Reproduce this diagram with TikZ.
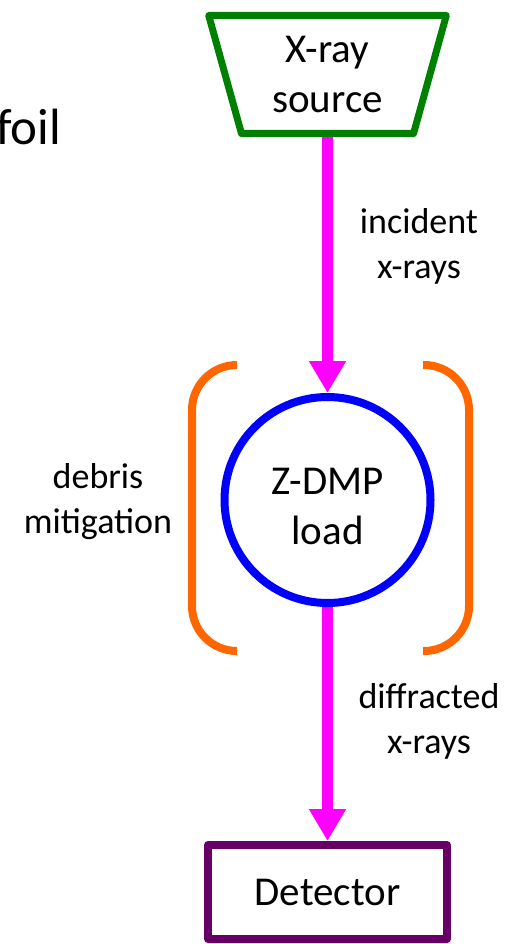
\documentclass[tikz,border=0pt]{standalone}
\usepackage{fontspec}
\setmainfont{Carlito}
\usepackage{tikz}
\usetikzlibrary{shapes.geometric, arrows.meta}
\definecolor{srcgreen}{RGB}{0,128,0}
\definecolor{raymagenta}{RGB}{255,0,255}
\definecolor{loadblue}{RGB}{0,0,255}
\definecolor{shieldorange}{RGB}{255,102,0}
\definecolor{detpurple}{RGB}{102,0,102}
\newcommand{\boxfont}{\fontsize{41}{50}\selectfont}
\newcommand{\notefont}{\fontsize{36}{45}\selectfont}
\tikzstyle{sourcebox} = [trapezium, trapezium left angle=75, trapezium right angle=75, shape border rotate=180, trapezium stretches=true, minimum width=238pt, minimum height=118pt, align=center, draw=srcgreen, line width=7pt, line join=round, font=\boxfont]
\tikzstyle{target} = [circle, minimum size=206pt, inner sep=0pt, align=center, draw=loadblue, line width=8pt, font=\boxfont]
\tikzstyle{detectorbox} = [rectangle, minimum width=239pt, minimum height=94pt, align=center, draw=detpurple, line width=8pt, line join=round, font=\boxfont]
\tikzstyle{note} = [align=center, font=\notefont]
\tikzstyle{arrow} = [draw=raymagenta, line width=11pt, -{Triangle[width=35pt,length=32pt]}]
\tikzstyle{shield} = [draw=shieldorange, line width=8pt, rounded corners=45pt]

\begin{document}
\begin{tikzpicture}[x=1pt, y=-1pt]
\useasboundingbox (0,0) rectangle (506,944);

\node (foil) [anchor=base east, inner sep=0pt, font=\fontsize{51}{60}\selectfont] at (61,145) {foil};
\node (src) [sourcebox] at (327.5,74.5) {X-ray\\source};
\node (load) [target, below of=src, node distance=425.5pt] {\rule{0pt}{40pt}Z-DMP\\load};
\node (det) [detectorbox, below of=load, node distance=392pt] {Detector};

\node (inc) [note] at (419,246.5) {incident\\x-rays};
\node (deb) [note] at (98,501.5) {debris\\mitigation};
\node (dif) [note] at (429,721) {diffracted\\x-rays};

% debris shields either side of the load
\draw [shield] (237,365) -| (192,651) -- (237,651);
\draw [shield] (423,365) -| (469,651) -- (423,651);

\draw [arrow] (src) -- (load);
\draw [arrow] (load) -- (det);

\end{tikzpicture}
\end{document}
